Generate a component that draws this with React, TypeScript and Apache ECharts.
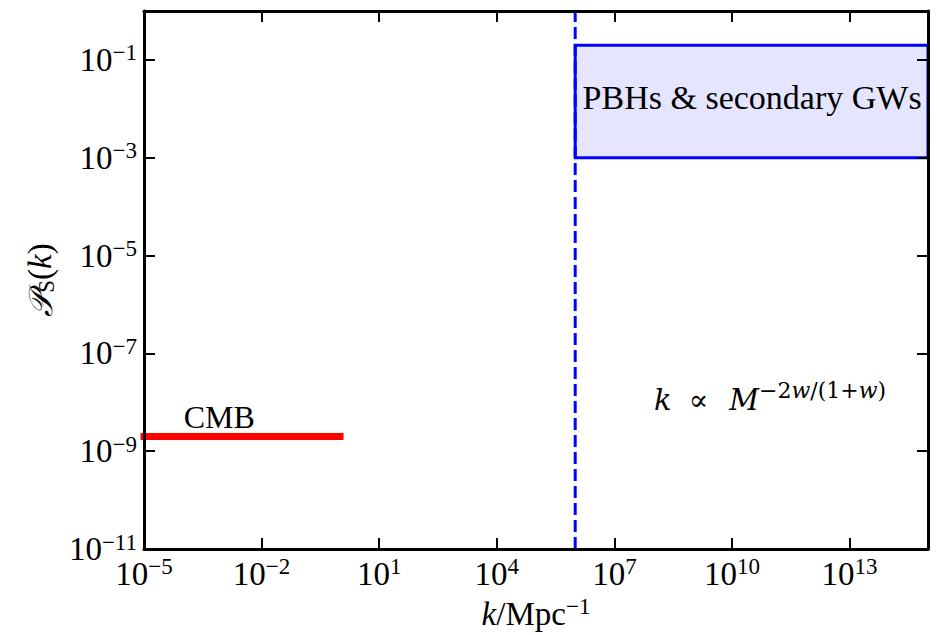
import React, { useEffect, useRef } from 'react';
import * as echarts from 'echarts';

// ---- data (k in Mpc^-1, P_S dimensionless) ----
const K_RANGE = [1e-5, 1e15];
const P_RANGE = [1e-11, 1];
const X_TICK_EXPONENTS = [-5, -2, 1, 4, 7, 10, 13];
const Y_TICK_EXPONENTS = [-11, -9, -7, -5, -3, -1];
const CMB_K = [1e-5, 1];
const CMB_P = [2e-9, 2e-9];
const PBH_K_BOUND = 1e6;
const BOX_K = [1e6, 1e15];
const BOX_P = [1e-3, 0.2];
const LABEL_TEXTS = ['CMB', 'PBHs & secondary GWs', 'formula'];
const LABEL_K = [1e-4, 1.5e6, 1e8];
const LABEL_P = [3e-9, 1e-2, 7e-9];

const lg = Math.log10;
const SERIF = "'Liberation Serif', 'Times New Roman', serif";
const DSERIF = "'DejaVu Serif', 'Liberation Serif', serif";

const tickRich = {
  b: { fontFamily: SERIF, fontSize: 33, color: '#000' },
  s: { fontFamily: SERIF, fontSize: 23, color: '#000', padding: [0, 0, 14, 0] },
};
const fmtExp = (v: number) => `{b|10}{s|${v < 0 ? '\u2212' + -v : v}}`;

const axisLine = { show: true, onZero: false, lineStyle: { color: '#000', width: 3 } };
const tick = (vals: number[]) => ({
  show: true,
  inside: true,
  length: 11,
  lineStyle: { color: '#000', width: 2 },
  customValues: vals,
});

export default function App() {
  const ref = useRef<HTMLDivElement>(null);
  useEffect(() => {
    if (!ref.current) return;
    const chart = echarts.init(ref.current, undefined, { renderer: 'svg' });
    const xMin = lg(K_RANGE[0]);
    const xMax = lg(K_RANGE[1]);
    const yMin = lg(P_RANGE[0]);
    const yMax = lg(P_RANGE[1]);

    const labelStyles: any[] = [
      { fontFamily: SERIF, fontSize: 32, offset: [0, -11] },
      { fontFamily: SERIF, fontSize: 34, offset: [0, -11] },
      {
        formatter: '{i|k}{n|\u221D}{i|M}{s|\u22122}{si|w}{s|/(1+}{si|w}{s|)}',
        offset: [0, -10],
        rich: {
          i: { fontFamily: DSERIF, fontStyle: 'italic', fontSize: 29, color: '#000' },
          n: { fontFamily: DSERIF, fontSize: 29, color: '#000', padding: [0, 21, 0, 17] },
          s: { fontFamily: DSERIF, fontSize: 22, color: '#000', padding: [0, 0, 19, 0] },
          si: { fontFamily: DSERIF, fontStyle: 'italic', fontSize: 22, color: '#000', padding: [0, 0, 19, 0] },
        },
      },
    ];

    const annotations = LABEL_TEXTS.map((t, i) => ({
      value: [lg(LABEL_K[i]), lg(LABEL_P[i])],
      label: {
        show: true,
        position: 'right',
        distance: 0,
        formatter: t,
        color: '#000',
        opacity: 1,
        textBorderWidth: 0,
        ...labelStyles[i],
      },
    }));

    chart.setOption({
      animation: false,
      backgroundColor: '#fff',
      grid: { left: 144, right: 8, top: 11, bottom: 84, containLabel: false },
      xAxis: [
        {
          type: 'value',
          position: 'bottom',
          min: xMin,
          max: xMax,
          z: 10,
          splitLine: { show: false },
          axisLine,
          axisTick: tick(X_TICK_EXPONENTS),
          axisLabel: {
            show: true,
            customValues: X_TICK_EXPONENTS,
            formatter: fmtExp,
            rich: tickRich,
            margin: 6,
          },
          name: '{i|k}{n|/Mpc}{s|\u22121}',
          nameLocation: 'middle',
          nameGap: 46,
          nameTextStyle: {
            rich: {
              i: { fontFamily: SERIF, fontStyle: 'italic', fontSize: 33, color: '#000' },
              n: { fontFamily: SERIF, fontSize: 33, color: '#000' },
              s: { fontFamily: SERIF, fontSize: 23, color: '#000', padding: [0, 0, 14, 0] },
            },
          },
        },
        {
          type: 'value',
          position: 'top',
          min: xMin,
          max: xMax,
          z: 10,
          splitLine: { show: false },
          axisLine,
          axisTick: tick(X_TICK_EXPONENTS),
          axisLabel: { show: false },
        },
      ],
      yAxis: [
        {
          type: 'value',
          position: 'left',
          min: yMin,
          max: yMax,
          z: 10,
          splitLine: { show: false },
          axisLine,
          axisTick: tick(Y_TICK_EXPONENTS),
          axisLabel: {
            show: true,
            customValues: Y_TICK_EXPONENTS,
            formatter: fmtExp,
            rich: tickRich,
            margin: 7,
          },
          name: '{p|\uD835\uDCAB}{sub|S}{n|(}{i|k}{n|)}',
          nameLocation: 'middle',
          nameGap: 86,
          nameTextStyle: {
            rich: {
              p: { fontFamily: "'DejaVu Serif', 'DejaVu Sans', serif", fontStyle: 'italic', fontSize: 33, color: '#000' },
              sub: { fontFamily: SERIF, fontSize: 23, color: '#000', padding: [12, 0, 0, 0] },
              n: { fontFamily: SERIF, fontSize: 33, color: '#000' },
              i: { fontFamily: SERIF, fontStyle: 'italic', fontSize: 33, color: '#000' },
            },
          },
        },
        {
          type: 'value',
          position: 'right',
          min: yMin,
          max: yMax,
          z: 10,
          splitLine: { show: false },
          axisLine,
          axisTick: tick(Y_TICK_EXPONENTS),
          axisLabel: { show: false },
        },
      ],
      series: [
        {
          type: 'line',
          name: 'CMB',
          data: CMB_K.map((k, i) => [lg(k), lg(CMB_P[i])]),
          symbol: 'none',
          silent: true,
          clip: true,
          z: 3,
          lineStyle: { color: '#ff0000', width: 7, cap: 'square' },
        },
        {
          type: 'line',
          name: 'PBH bound',
          data: [
            [lg(PBH_K_BOUND), yMin],
            [lg(PBH_K_BOUND), yMax],
          ],
          symbol: 'none',
          silent: true,
          z: 4,
          lineStyle: { color: '#0000ff', width: 3, type: [12, 5] },
          markArea: {
            silent: true,
            label: { show: false },
            itemStyle: { color: 'rgba(0,0,255,0.1)', borderColor: '#0000ff', borderWidth: 3 },
            data: [
              [
                { coord: [lg(BOX_K[0]), lg(BOX_P[1])] },
                { coord: [lg(BOX_K[1]), lg(BOX_P[0])] },
              ],
            ],
          },
        },
        {
          type: 'scatter',
          name: 'labels',
          data: annotations,
          symbolSize: 1,
          silent: true,
          z: 6,
          itemStyle: { color: 'rgba(0,0,0,0)' },
          label: { color: '#000', opacity: 1, textBorderWidth: 0 },
        },
      ],
    });
    return () => chart.dispose();
  }, []);
  return (
    <div
      ref={ref}
      style={{ position: 'absolute', left: 0, top: 0, width: 936, height: 635, background: '#fff' }}
    />
  );
}
